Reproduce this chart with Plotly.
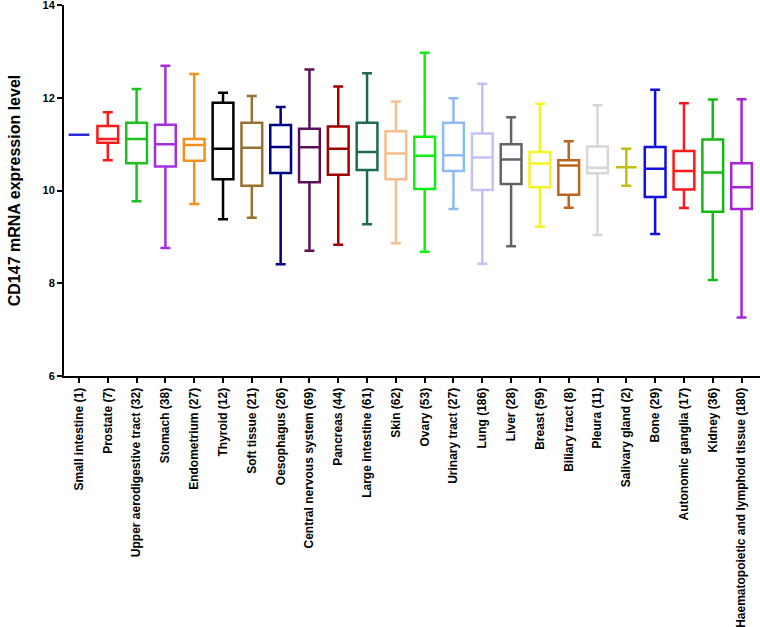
import plotly.graph_objects as go

categories = ["Small intestine (1)", "Prostate (7)", "Upper aerodigestive tract (32)", "Stomach (38)",
              "Endometrium (27)", "Thyroid (12)", "Soft tissue (21)", "Oesophagus (26)",
              "Central nervous system (69)", "Pancreas (44)", "Large intestine (61)", "Skin (62)",
              "Ovary (53)", "Urinary tract (27)", "Lung (186)", "Liver (28)", "Breast (59)",
              "Biliary tract (8)", "Pleura (11)", "Salivary gland (2)", "Bone (29)",
              "Autonomic ganglia (17)", "Kidney (36)", "Haematopoietic and lymphoid tissue (180)"]

mins    = [11.20, 10.65, 9.77, 8.76, 9.71, 9.38, 9.41, 8.41, 8.70, 8.83, 9.27, 8.86,
           8.68, 9.60, 8.42, 8.80, 9.22, 9.63, 9.04, 10.10, 9.06, 9.62, 8.07, 7.26]
q1s     = [11.20, 11.03, 10.59, 10.52, 10.64, 10.24, 10.10, 10.38, 10.18, 10.34, 10.44, 10.24,
           10.03, 10.42, 10.01, 10.14, 10.07, 9.91, 10.37, 10.50, 9.86, 10.02, 9.54, 9.60]
medians = [11.20, 11.11, 11.11, 11.00, 10.98, 10.90, 10.92, 10.94, 10.93, 10.90, 10.83, 10.80,
           10.75, 10.76, 10.71, 10.67, 10.58, 10.54, 10.49, 10.50, 10.47, 10.42, 10.39, 10.07]
q3s     = [11.20, 11.39, 11.46, 11.42, 11.11, 11.89, 11.46, 11.41, 11.33, 11.38, 11.46, 11.28,
           11.16, 11.46, 11.23, 11.00, 10.83, 10.65, 10.95, 10.50, 10.94, 10.85, 11.10, 10.59]
maxs    = [11.20, 11.69, 12.19, 12.69, 12.51, 12.11, 12.04, 11.80, 12.61, 12.24, 12.53, 11.92,
           12.97, 11.99, 12.30, 11.58, 11.87, 11.06, 11.84, 10.90, 12.17, 11.88, 11.96, 11.97]

colors = ["#2b2bd9", "#ff1a1a", "#1fbf1f", "#a52ee0", "#f5901e", "#000000", "#99702e", "#000080",
          "#5c1058", "#a00000", "#1d6b4f", "#f5be8a", "#10f010", "#8cbaf2", "#c2c2f7", "#646464",
          "#f7f224", "#bd641a", "#d6d6d6", "#c4bc10", "#0f0fe6", "#ff1a1a", "#16b816", "#a624d6"]

y_ticks = [6, 8, 10, 12, 14]

fig = go.Figure()
for i, cat in enumerate(categories):
    fig.add_trace(go.Box(
        x=[cat], q1=[q1s[i]], median=[medians[i]], q3=[q3s[i]],
        lowerfence=[mins[i]], upperfence=[maxs[i]],
        line=dict(color=colors[i], width=2.5),
        fillcolor="rgba(0,0,0,0)",
        width=0.72, whiskerwidth=0.48,
        boxpoints=False, showlegend=False, hoverinfo="skip",
    ))

font_family = "Arial, Liberation Sans, sans-serif"
fig.update_layout(
    width=760, height=627,
    margin=dict(l=64, r=0, t=5, b=251),
    plot_bgcolor="white", paper_bgcolor="white",
    boxmode="overlay",
    font=dict(family=font_family, color="black"),
    xaxis=dict(
        type="category", categoryorder="array", categoryarray=categories,
        range=[-0.52, 23.64], automargin=False,
        showline=True, linecolor="black", linewidth=2,
        ticks="outside", ticklen=5, tickwidth=1.5, tickcolor="black",
        tickangle=-90, tickfont=dict(size=12, weight="bold", family=font_family),
        showgrid=False, zeroline=False,
    ),
    yaxis=dict(
        range=[6, 14], tickvals=y_ticks, automargin=False,
        ticklabeloverflow="allow",
        showline=True, linecolor="black", linewidth=2,
        ticks="outside", ticklen=5, tickwidth=1.5, tickcolor="black",
        tickfont=dict(size=11, weight="bold", family=font_family),
        showgrid=False, zeroline=False,
        title=dict(text="CD147 mRNA expression level",
                   font=dict(size=16, weight="bold", family=font_family), standoff=18),
    ),
)

fig.write_html("out.html",
               config={"displayModeBar": False},
               post_script="document.body.style.margin='0';document.body.style.overflow='hidden';")
